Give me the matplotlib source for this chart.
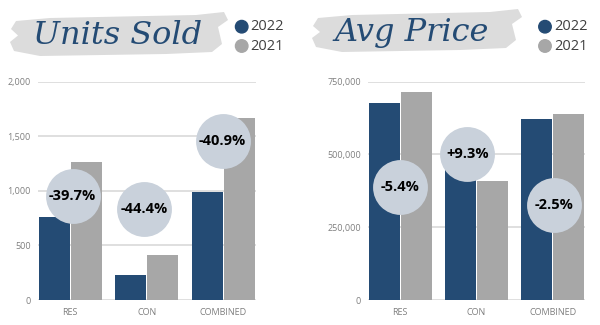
import matplotlib.pyplot as plt
import matplotlib.ticker as mticker
from matplotlib.patches import Polygon, Ellipse
import numpy as np

# === dados ===
categorias = ['RES', 'CON', 'COMBINED']
anos = ['2022', '2021']
unidades_2022 = [760, 229, 989]
unidades_2021 = [1260, 412, 1672]
preco_2022 = [678000, 446000, 623000]
preco_2021 = [716000, 408000, 640000]
var_unidades = ['-39.7%', '-44.4%', '-40.9%']
var_preco = ['-5.4%', '+9.3%', '-2.5%']

# posicao dos circulos (layout)
circ_unid_y = [954, 832, 1459]
circ_unid_dx = [0.03, -0.035, -0.01]
circ_preco_y = [387000, 501500, 326000]
circ_preco_dx = [0.0, -0.12, 0.02]

AZUL = '#244b74'
CINZA = '#a7a7a7'
CIRC = '#c9d1db'
GRID = '#d9d9d9'
TXT = '#7f7f7f'

plt.rcParams['font.family'] = ['Open Sans', 'DejaVu Sans']

fig = plt.figure(figsize=(6, 3.25), dpi=100)


def painel(rect, v22, v21, ymax, passo, rotulos, cy, cdx):
    ax = fig.add_axes(rect)
    x = np.arange(len(categorias))
    w = 0.405
    ax.bar(x - 0.21, v22, width=w, color=AZUL, zorder=2)
    ax.bar(x + 0.21, v21, width=w, color=CINZA, zorder=2)
    ax.set_xlim(-0.425, 2.425)
    ax.set_ylim(0, ymax)
    ax.yaxis.set_major_locator(mticker.MultipleLocator(passo))
    ax.yaxis.set_major_formatter(mticker.FuncFormatter(lambda v, p: f'{v:,.0f}'))
    ax.grid(axis='y', color=GRID, linewidth=1.2, zorder=0)
    ax.set_axisbelow(True)
    for s in ax.spines.values():
        s.set_visible(False)
    ax.tick_params(length=0, labelsize=6.5, labelcolor=TXT)
    ax.tick_params(axis='x', pad=6)
    ax.tick_params(axis='y', pad=5)
    ax.set_xticks(x)
    ax.set_xticklabels(categorias)
    xs = x + np.array(cdx)
    ax.scatter(xs, cy, s=1560, color=CIRC, zorder=3, clip_on=False, linewidths=0)
    for xi, yi, t in zip(xs, cy, rotulos):
        ax.text(xi, yi, t, ha='center', va='center', fontsize=10.5,
                fontweight='bold', color='black', zorder=4)
    return ax


painel([0.0628, 0.0769, 0.3639, 0.6717], unidades_2022, unidades_2021,
       2000, 500, var_unidades, circ_unid_y, circ_unid_dx)
painel([0.6128, 0.0769, 0.3627, 0.6717], preco_2022, preco_2021,
       750000, 250000, var_preco, circ_preco_y, circ_preco_dx)

W, H = 600, 325


# === titulos com "pincelada" ===
def pincel(x0, x1, y0, y1):
    pts = [(x0 + 6, y0 + 4), (x0 + 40, y0 + 1), (x1 - 30, y0 - 2), (x1 - 2, y0 - 5),
           (x1 + 2, y0 + 3), (x1 - 8, y0 + 10), (x1 - 4, y1 - 10), (x1 - 14, y1 - 2),
           (x1 - 60, y1), (x0 + 30, y1 + 2), (x0 + 4, y1 - 3), (x0, y1 - 12),
           (x0 + 8, (y0 + y1) / 2), (x0 + 1, y0 + 12)]
    pts = [(px / W, 1 - py / H) for px, py in pts]
    fig.patches.append(Polygon(pts, closed=True, transform=fig.transFigure,
                               facecolor='#dcdcdc', edgecolor='none', zorder=0))


pincel(10, 226, 17, 54)
pincel(312, 520, 14, 50)

fig.text(118 / W, 1 - 36 / H, 'Units Sold', ha='center', va='center',
         fontsize=23, color=AZUL, family='DejaVu Serif', style='italic', zorder=2)
fig.text(412 / W, 1 - 33 / H, 'Avg Price', ha='center', va='center',
         fontsize=23, color=AZUL, family='DejaVu Serif', style='italic', zorder=2)

# === legendas ===
for lx in (241.7, 545):
    for ly, cor, ano in ((26.7, AZUL, anos[0]), (46, CINZA, anos[1])):
        fig.patches.append(Ellipse((lx / W, 1 - ly / H), 12.5 / W, 12.5 / H,
                                   transform=fig.transFigure, color=cor))
        fig.text((lx + 9) / W, 1 - ly / H, ano, ha='left', va='center',
                 fontsize=10.5, color='#404040')

fig.savefig('out.png', dpi=100)
